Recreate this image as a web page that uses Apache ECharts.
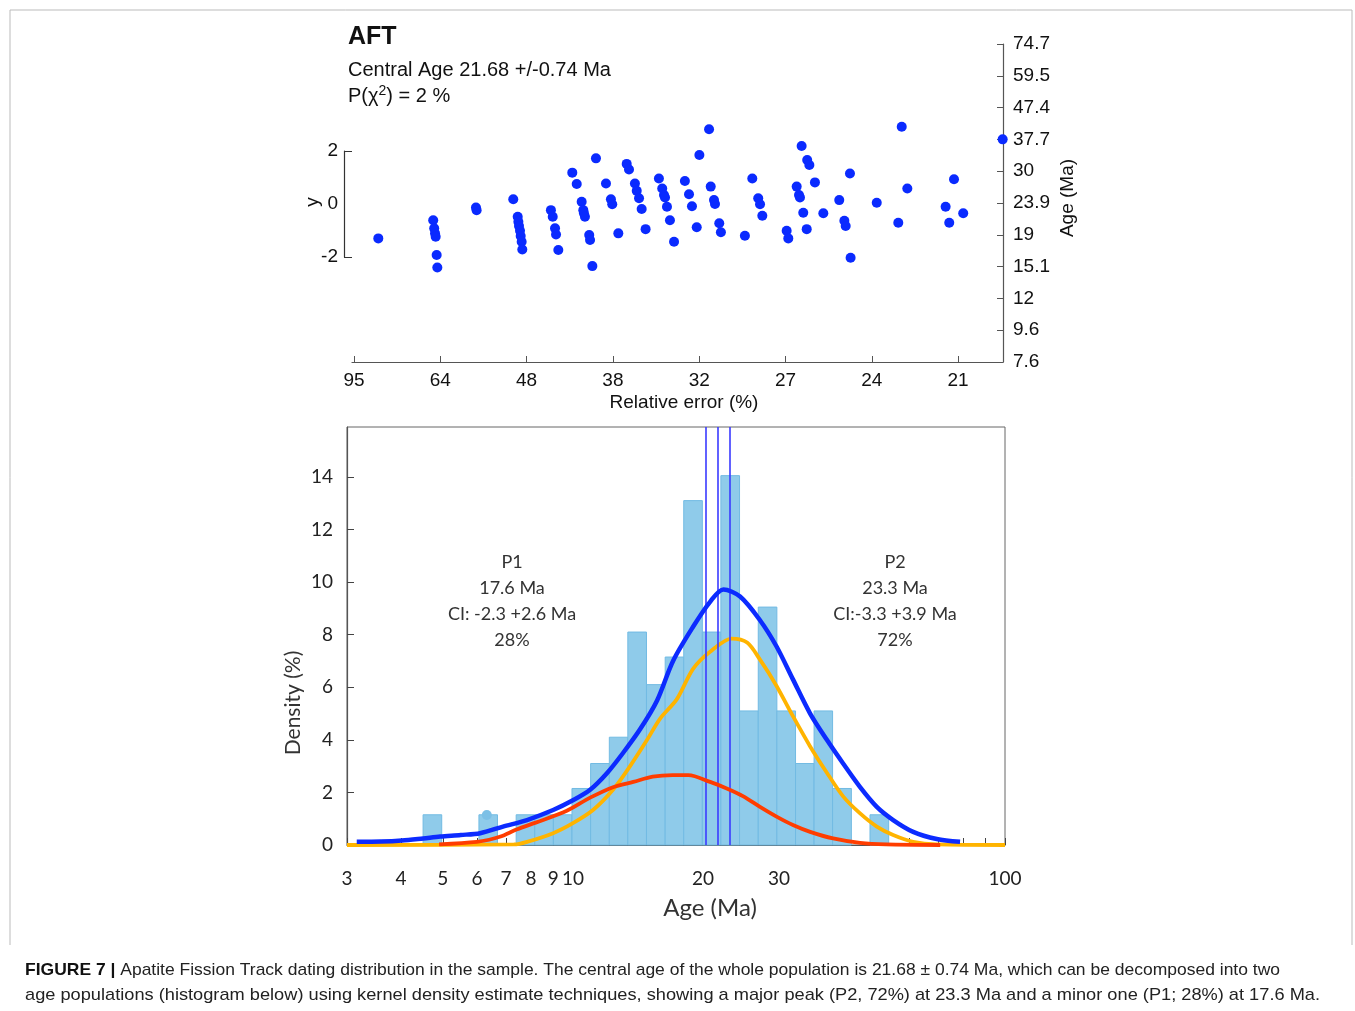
<!DOCTYPE html>
<html><head><meta charset="utf-8">
<script src="https://cdn.jsdelivr.net/npm/echarts@6/dist/echarts.min.js"></script>
<style>html,body{margin:0;padding:0;background:#fff}#c{width:1355px;height:1011px}</style>
</head><body><div id="c"></div>
<script>
// ---------- Radial plot (top) ----------
// x: precision (100 / relative error %), y: standardised estimate
const radialPrecision = [1.198,1.532,1.538,1.543,1.547,1.553,1.557,1.792,1.796,2.019,2.046,2.05,2.054,2.06,2.064,2.07,2.074,2.248,2.259,2.273,2.279,2.293,
 2.378,2.405,2.435,2.445,2.449,2.455,2.481,2.486,2.5,2.522,2.583,2.613,2.621,2.658,2.709,2.723,2.759,2.77,2.784,2.8,2.824,2.905,2.925,2.936,2.942,2.954,2.972,2.997,
 3.063,3.088,3.106,3.135,3.151,3.21,3.22,3.24,3.246,3.272,3.282,3.428,3.473,3.509,3.52,3.534,
 3.682,3.692,3.773,3.807,3.82,3.854,3.743,3.757,3.763,3.783,3.804,3.905,4.002,4.033,4.041,4.067,4.071,4.23,4.361,4.382,4.416,4.649,4.671,4.7,4.756,4.996];
const radialZ = [-1.30,-0.61,-0.92,-1.11,-1.24,-1.93,-2.40,-0.13,-0.23,0.18,-0.48,-0.67,-0.83,-1.01,-1.21,-1.43,-1.72,-0.23,-0.48,-0.92,-1.15,-1.74,
 1.19,0.76,0.09,-0.23,-0.35,-0.48,-1.17,-1.36,-2.35,1.73,0.78,0.18,-0.01,-1.11,1.52,1.31,0.78,0.50,0.22,-0.19,-0.95,0.97,0.59,0.34,0.25,-0.10,-0.61,-1.43,
 0.87,0.37,-0.08,-0.88,1.86,2.83,0.66,0.15,0.0,-0.73,-1.07,-1.20,0.97,0.22,-0.01,-0.44,
 -1.01,-1.30,2.20,1.67,1.48,0.82,0.66,0.34,0.25,-0.33,-0.95,-0.35,0.15,-0.63,-0.83,1.16,-2.03,0.05,-0.71,2.93,0.59,-0.10,-0.71,0.94,-0.35,2.45];
const relErrTickPos = [1.05,1.575,2.1,2.625,3.15,3.675,4.2,4.725];
const relErrTicks = ['95','64','48','38','32','27','24','21'];
const ageTicks = ['7.6','9.6','12','15.1','19','23.9','30','37.7','47.4','59.5','74.7'];
const zTicks = [-2,0,2];

// ---------- Histogram / KDE (bottom) ----------
const binLo = [4.5,4.97,5.49,6.06,6.69,7.39,8.16,9.01,9.95,10.99,12.14,13.4,14.8,16.35,18.05,19.93,22.0,24.3,26.85,29.65,32.75,36.15,39.9,44.1,48.7];
const binHi = [4.97,5.49,6.06,6.69,7.39,8.16,9.01,9.95,10.99,12.14,13.4,14.8,16.35,18.05,19.93,22.0,24.3,26.85,29.65,32.75,36.15,39.9,44.1,48.7,53.8];
const binDensity = [1.15,0,0,1.15,0,1.15,1.15,1.15,2.15,3.1,4.1,8.1,6.1,7.15,13.1,8.1,14.05,5.1,9.05,5.1,3.1,5.1,2.15,0,1.15];
const sumAge = [3.16,3.6,4.02,4.5,4.93,5.5,6.1,6.89,7.83,9.0,10.0,10.96,12.0,13.06,14.3,15.66,17.05,18.97,20.77,22.3,24.37,27.1,29.6,32.3,35.4,38.7,42.2,46.2,50.5,55.1,61.3,69.5,78.7];
const sumDen = [0.12,0.13,0.17,0.25,0.32,0.38,0.45,0.7,0.95,1.33,1.7,2.1,2.74,3.5,4.4,5.5,7.0,8.3,9.25,9.72,9.45,8.55,7.55,6.3,5.0,4.0,3.1,2.2,1.45,0.95,0.5,0.23,0.12];
const p2Age = [3,7.3,7.83,9.0,10.0,11.13,12.38,13.56,14.85,15.9,17.4,18.97,20.77,23.3,25.3,27.1,29.6,32.3,35.4,38.7,42.2,46.2,50.5,55.1,61.3,69.5,100];
const p2Den = [0,0.02,0.12,0.45,0.83,1.33,2.1,3.0,4.0,4.8,5.55,6.7,7.35,7.85,7.7,7.05,6.05,4.9,3.75,2.75,1.85,1.2,0.7,0.38,0.12,0.02,0];
const p1Age = [4.9,5.99,6.4,6.8,7.43,8.2,9.68,10.96,12.38,13.8,15.3,17.0,18.5,20.77,22.7,24.8,27.1,29.6,32.3,35.4,40.0,46.2,53.1,70.8];
const p1Den = [0.02,0.12,0.2,0.32,0.6,0.85,1.3,1.8,2.2,2.4,2.6,2.66,2.66,2.4,2.15,1.85,1.45,1.08,0.76,0.5,0.25,0.08,0.02,0];
const centralAgeLines = [20.35,21.68,23.1];
const markerAge = [6.32], markerDen = [1.14];
const histTickVals = [3,4,5,6,7,8,9,10,20,30,40,50,60,70,80,90,100];
const histLabelVals = [3,4,5,6,7,8,9,10,20,30,100];
const densTickVals = [0,2,4,6,8,10,12,14];

const zip = (a,b)=>a.map((v,i)=>[v,b[i]]);
const HF = 'Liberation Sans, Arial, sans-serif';
const LF = 'Lato, Open Sans, sans-serif';

// caption fitting
const cctx = document.createElement('canvas').getContext('2d');
function measure(parts){let w=0;parts.forEach(([f,t])=>{cctx.font=f;w+=cctx.measureText(t).width;});return w;}
const cap1b = 'FIGURE 7 | ';
const cap1 = 'Apatite Fission Track dating distribution in the sample. The central age of the whole population is 21.68 \u00b1 0.74 Ma, which can be decomposed into two';
const cap2 = 'age populations (histogram below) using kernel density estimate techniques, showing a major peak (P2, 72%) at 23.3 Ma and a minor one (P1; 28%) at 17.6 Ma.';
const s1 = 1255 / measure([['bold 17px Liberation Sans',cap1b],['17px Liberation Sans',cap1]]);
const s2 = 1295 / measure([['17px Liberation Sans',cap2]]);

const chart = echarts.init(document.getElementById('c'), null, {renderer:'canvas'});

const option = {
  animation:false,
  grid:[
    {left:352, top:44, width:651, height:318},
    {left:344, top:151, width:8, height:106},
    {left:347, top:427, width:658, height:418, show:true, borderColor:'#666', borderWidth:1}
  ],
  xAxis:[
    {gridIndex:0, type:'value', min:1.038, max:4.998,
     axisLine:{onZero:false, lineStyle:{color:'#555',width:1.2}},
     axisTick:{inside:true,length:6,customValues:relErrTickPos,lineStyle:{color:'#555'}},
     axisLabel:{customValues:relErrTickPos, margin:9, fontSize:19, fontFamily:HF, color:'#111',
       formatter:v=>relErrTicks[Math.round((v-1.05)/0.525)]},
     splitLine:{show:false}},
    {gridIndex:1, type:'value', show:false, min:0, max:1},
    {gridIndex:2, type:'log', logBase:10, min:3, max:100,
     axisLine:{onZero:false, lineStyle:{color:'#555',width:1.2}},
     axisTick:{inside:true,length:7,customValues:histTickVals,lineStyle:{color:'#444'}},
     axisLabel:{customValues:histLabelVals, margin:24, fontSize:19, fontFamily:LF, color:'#222'},
     splitLine:{show:false}, minorTick:{show:false}}
  ],
  yAxis:[
    {gridIndex:0, type:'value', min:-5.98, max:6.06, show:false},
    {gridIndex:0, type:'value', position:'right', min:0, max:10, interval:1,
     axisLine:{show:true,onZero:false,lineStyle:{color:'#555',width:1.2}},
     axisTick:{show:true,inside:true,length:6,lineStyle:{color:'#555'}},
     axisLabel:{margin:10, fontSize:19, fontFamily:HF, color:'#111', formatter:v=>ageTicks[Math.round(v)]},
     splitLine:{show:false}},
    {gridIndex:1, type:'value', position:'left', min:-2, max:2, interval:2,
     axisLine:{show:true,onZero:false,lineStyle:{color:'#333',width:1.2}},
     axisTick:{show:true,inside:true,length:8,customValues:[-2,2],lineStyle:{color:'#333'}},
     axisLabel:{customValues:zTicks, margin:6, fontSize:19, fontFamily:HF, color:'#111'},
     splitLine:{show:false}},
    {gridIndex:2, type:'value', min:0, max:15.9,
     axisLine:{show:true,onZero:false,lineStyle:{color:'#555',width:1.2}},
     axisTick:{show:true,inside:true,length:7,customValues:densTickVals,lineStyle:{color:'#444'}},
     axisLabel:{customValues:densTickVals, margin:14, fontSize:19, fontFamily:LF, color:'#222'},
     splitLine:{show:false}}
  ],
  series:[
    {type:'scatter', xAxisIndex:0, yAxisIndex:0, data:zip(radialPrecision,radialZ), symbolSize:10,
     itemStyle:{color:'#0a2aff', opacity:1}, clip:false, z:5},
    {type:'custom', xAxisIndex:2, yAxisIndex:3, z:2,
     data:binLo.map((lo,i)=>[lo,binHi[i],binDensity[i]]).filter(d=>d[2]>0),
     encode:{x:[0,1],y:2},
     renderItem:(params,api)=>{
       const a = api.coord([api.value(0), api.value(2)]);
       const b = api.coord([api.value(1), 0]);
       return {type:'rect', shape:{x:a[0], y:a[1], width:b[0]-a[0], height:b[1]-a[1]},
               style:{fill:'#8fcbea', stroke:'#72bbe3', lineWidth:1}};
     },
     markLine:{silent:true, symbol:'none', label:{show:false},
       lineStyle:{color:'#3a3aff', width:1.6, type:'solid'},
       data:centralAgeLines.map(v=>({xAxis:v}))}
    },
    {type:'scatter', xAxisIndex:2, yAxisIndex:3, data:zip(markerAge,markerDen), symbolSize:10,
     itemStyle:{color:'#7cc0e6', opacity:1}, z:3},
    {type:'line', xAxisIndex:2, yAxisIndex:3, data:zip(p2Age,p2Den), showSymbol:false, smooth:0.3,
     lineStyle:{color:'#ffb400', width:3.8}, z:4},
    {type:'line', xAxisIndex:2, yAxisIndex:3, data:zip(p1Age,p1Den), showSymbol:false, smooth:0.3,
     lineStyle:{color:'#ff3d00', width:3.8}, z:5},
    {type:'line', xAxisIndex:2, yAxisIndex:3, data:zip(sumAge,sumDen), showSymbol:false, smooth:0.3,
     lineStyle:{color:'#0c2bff', width:4.5}, z:6}
  ],
  graphic:[
    {type:'polyline', shape:{points:[[10,945],[10,10],[1352,10],[1352,945]]}, style:{stroke:'#bbb', fill:null, lineWidth:1}},
    {type:'text', x:348, y:37, style:{text:'AFT', font:'bold 25px '+HF, fill:'#111', textAlign:'left', textVerticalAlign:'middle'}},
    {type:'text', x:348, y:70, style:{text:'Central Age 21.68 +/-0.74 Ma', font:'20px '+HF, fill:'#111', textAlign:'left', textVerticalAlign:'middle'}},
    {type:'text', x:348, y:96, style:{text:'P(\u03c7{s|2}) = 2 %', font:'20px '+HF, fill:'#111', textAlign:'left', textVerticalAlign:'middle',
      rich:{s:{fontSize:14, fontFamily:HF, padding:[0,0,10,0]}}}},
    {type:'text', x:313, y:202, rotation:Math.PI/2, style:{text:'y', font:'19px '+HF, fill:'#111', textAlign:'center', textVerticalAlign:'middle'}},
    {type:'text', x:684, y:403, style:{text:'Relative error (%)', font:'19px '+HF, fill:'#111', textAlign:'center', textVerticalAlign:'middle'}},
    {type:'text', x:1068, y:198, rotation:Math.PI/2, style:{text:'Age (Ma)', font:'19px '+HF, fill:'#111', textAlign:'center', textVerticalAlign:'middle'}},
    {type:'text', x:512, y:601, style:{text:'P1\n17.6 Ma\nCI: -2.3 +2.6 Ma\n28%', font:'18px '+LF, fill:'#333', textAlign:'center', textVerticalAlign:'middle', lineHeight:26}},
    {type:'text', x:895, y:601, style:{text:'P2\n23.3 Ma\nCI:-3.3 +3.9 Ma\n72%', font:'18px '+LF, fill:'#333', textAlign:'center', textVerticalAlign:'middle', lineHeight:26}},
    {type:'text', x:293, y:703, rotation:Math.PI/2, style:{text:'Density (%)', font:'21px '+LF, fill:'#333', textAlign:'center', textVerticalAlign:'middle'}},
    {type:'text', x:710, y:908, style:{text:'Age (Ma)', font:'24px '+LF, fill:'#333', textAlign:'center', textVerticalAlign:'middle'}},
    {type:'text', x:25, y:970, scaleX:s1, style:{text:'{b|'+cap1b+'}'+cap1, font:'17px Liberation Sans', fill:'#222', textAlign:'left', textVerticalAlign:'middle',
      rich:{b:{fontWeight:'bold', fontSize:17, fontFamily:'Liberation Sans', fill:'#111'}}}},
    {type:'text', x:25, y:995, scaleX:s2, style:{text:cap2, font:'17px Liberation Sans', fill:'#222', textAlign:'left', textVerticalAlign:'middle'}}
  ]
};
chart.setOption(option);
</script></body></html>
